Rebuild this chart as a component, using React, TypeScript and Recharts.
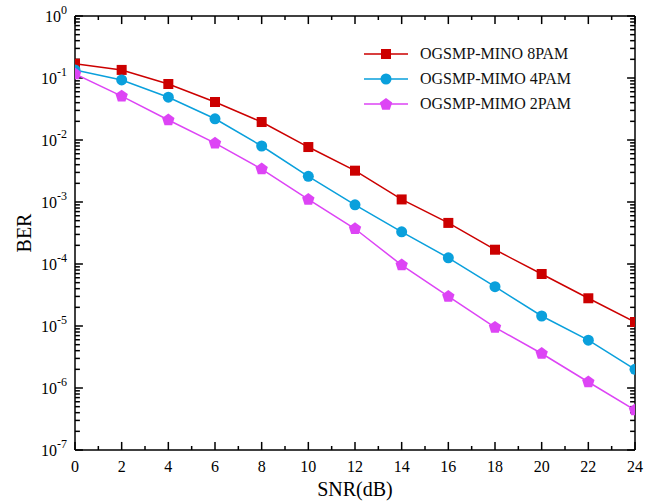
import { LineChart, Line, XAxis, YAxis, Legend, ReferenceLine } from "recharts";

const snr = [0, 2, 4, 6, 8, 10, 12, 14, 16, 18, 20, 22, 24];
const ber8pam = [0.17, 0.135, 0.08, 0.041, 0.0195, 0.0077, 0.0032, 0.0011, 4.6e-4, 1.7e-4, 6.9e-5, 2.8e-5, 1.16e-5];
const ber4pam = [0.135, 0.093, 0.049, 0.022, 0.008, 0.0026, 9e-4, 3.3e-4, 1.26e-4, 4.3e-5, 1.45e-5, 5.9e-6, 2e-6];
const ber2pam = [0.116, 0.051, 0.021, 0.0089, 0.0034, 0.0011, 3.7e-4, 9.6e-5, 3e-5, 9.5e-6, 3.6e-6, 1.25e-6, 4.4e-7];

const xTicks = [0, 1, 2, 3, 4, 5, 6, 7, 8, 9, 10, 11, 12, 13, 14, 15, 16, 17, 18, 19, 20, 21, 22, 23, 24];
const decades = [-7, -6, -5, -4, -3, -2, -1];
const yTicks: number[] = [];
decades.forEach((e) => {
  for (let m = 1; m <= 9; m++) yTicks.push(m * Math.pow(10, e));
});
yTicks.push(1);

const data = snr.map((s, i) => ({ snr: s, ber8: ber8pam[i], ber4: ber4pam[i], ber2: ber2pam[i] }));

const RED = "#CC0000";
const BLUE = "#0AA0DC";
const MAGENTA = "#DD44F5";
const FONT = "Liberation Serif";

const X_MIN = 0;
const X_MAX = 24;
const Y_MIN = 1e-7;
const Y_MAX = 1;
// inward tick lengths, in axis units (about 8px / 4-5px)
const X_MAJOR_LEN = 0.34;
const X_MINOR_LEN = 0.21;
const Y_MAJOR_DEC = 0.13;
const Y_MINOR_DEC = 0.065;

const isDecade = (v: number) => {
  const l = Math.log10(v);
  return Math.abs(l - Math.round(l)) < 1e-6;
};

const BottomTick = (props: any) => {
  const { x, y, payload } = props;
  if (payload.value % 2 !== 0) return <g />;
  return (
    <text x={x} y={y + 22} textAnchor="middle" fontFamily={FONT} fontSize={16} fill="#000">
      {payload.value}
    </text>
  );
};

const LeftTick = (props: any) => {
  const { x, y, payload } = props;
  if (!isDecade(payload.value)) return <g />;
  const exp = Math.round(Math.log10(payload.value));
  return (
    <text x={x - 8} y={y + 6} textAnchor="end" fontFamily={FONT} fontSize={16} fill="#000">
      <tspan>10</tspan>
      <tspan dy={-8} fontSize={12}>{exp === 0 ? "0" : `-${-exp}`}</tspan>
    </text>
  );
};

const squareDot = (color: string) => (p: any) => (
  <rect key={`s-${p.index}`} x={p.cx - 5} y={p.cy - 5} width={10} height={10} fill={color} />
);

const circleDot = (color: string) => (p: any) => (
  <circle key={`c-${p.index}`} cx={p.cx} cy={p.cy} r={5.5} fill={color} />
);

const pentagonPoints = (cx: number, cy: number, r: number) =>
  [0, 1, 2, 3, 4]
    .map((k) => {
      const a = -Math.PI / 2 + (k * 2 * Math.PI) / 5;
      return `${cx + r * Math.cos(a)},${cy + r * Math.sin(a)}`;
    })
    .join(" ");

const pentagonDot = (color: string) => (p: any) => (
  <polygon key={`p-${p.index}`} points={pentagonPoints(p.cx, p.cy, 6.5)} fill={color} />
);

const legendItems = [
  { name: "OGSMP-MINO 8PAM", color: RED, shape: "square" },
  { name: "OGSMP-MIMO 4PAM", color: BLUE, shape: "circle" },
  { name: "OGSMP-MIMO 2PAM", color: MAGENTA, shape: "pentagon" },
];

const renderLegend = () => (
  <div style={{ fontFamily: FONT, fontSize: 16, color: "#111" }}>
    {legendItems.map((it) => (
      <div key={it.name} style={{ display: "flex", alignItems: "center", height: 25 }}>
        <svg width={44} height={16} style={{ marginRight: 12 }}>
          <rect x={0} y={7.25} width={44} height={1.5} fill={it.color} />
          {it.shape === "square" && <rect x={17} y={3} width={10} height={10} fill={it.color} />}
          {it.shape === "circle" && <circle cx={22} cy={8} r={5.5} fill={it.color} />}
          {it.shape === "pentagon" && <polygon points={pentagonPoints(22, 8.5, 6.5)} fill={it.color} />}
        </svg>
        <span>{it.name}</span>
      </div>
    ))}
  </div>
);

const axisLine = { stroke: "#000", strokeWidth: 1.5 };
const tickStroke = { stroke: "#000", strokeWidth: 1.5 };

export default function App() {
  return (
    <div style={{ position: "absolute", left: 0, top: 0 }}>
      <LineChart width={645} height={503} data={data} margin={{ top: 15, right: 9, bottom: 3, left: 0 }}>
        <XAxis
          dataKey="snr"
          type="number"
          domain={[X_MIN, X_MAX]}
          ticks={xTicks}
          interval={0}
          allowDataOverflow
          tickSize={0}
          tickMargin={0}
          tickLine={false}
          tick={<BottomTick />}
          axisLine={axisLine}
          height={50}
          label={{ value: "SNR(dB)", position: "insideBottom", offset: 4, fontFamily: FONT, fontSize: 20, fill: "#000" }}
        />
        <XAxis
          xAxisId="top"
          orientation="top"
          dataKey="snr"
          type="number"
          domain={[X_MIN, X_MAX]}
          allowDataOverflow
          tick={false}
          tickLine={false}
          axisLine={axisLine}
          height={1}
        />
        <YAxis
          type="number"
          scale="log"
          domain={[Y_MIN, Y_MAX]}
          ticks={yTicks}
          interval={0}
          allowDataOverflow
          tickSize={0}
          tickMargin={0}
          tickLine={false}
          tick={<LeftTick />}
          axisLine={axisLine}
          width={75}
          label={{ value: "BER", angle: -90, position: "insideLeft", offset: 24, fontFamily: FONT, fontSize: 20, fill: "#000", style: { textAnchor: "middle" } }}
        />
        <YAxis
          yAxisId="right"
          orientation="right"
          type="number"
          scale="log"
          domain={[Y_MIN, Y_MAX]}
          allowDataOverflow
          tick={false}
          tickLine={false}
          axisLine={axisLine}
          width={1}
        />

        {/* inward tick marks on all four sides */}
        {xTicks.map((v) => {
          const major = v % 2 === 0;
          const d = major ? Y_MAJOR_DEC : Y_MINOR_DEC;
          return [
            <ReferenceLine key={`xb-${v}`} segment={[{ x: v, y: Y_MIN }, { x: v, y: Y_MIN * Math.pow(10, d) }]} {...tickStroke} ifOverflow="visible" />,
            <ReferenceLine key={`xt-${v}`} segment={[{ x: v, y: Y_MAX }, { x: v, y: Y_MAX * Math.pow(10, -d) }]} {...tickStroke} ifOverflow="visible" />,
          ];
        })}
        {yTicks.map((v) => {
          const len = isDecade(v) ? X_MAJOR_LEN : X_MINOR_LEN;
          return [
            <ReferenceLine key={`yl-${v}`} segment={[{ x: X_MIN, y: v }, { x: X_MIN + len, y: v }]} {...tickStroke} ifOverflow="visible" />,
            <ReferenceLine key={`yr-${v}`} segment={[{ x: X_MAX, y: v }, { x: X_MAX - len, y: v }]} {...tickStroke} ifOverflow="visible" />,
          ];
        })}

        <Legend
          layout="horizontal"
          verticalAlign="middle"
          align="center"
          content={renderLegend}
          wrapperStyle={{ left: 364, top: 41, width: 260, height: 80 }}
        />
        <Line dataKey="ber8" name="OGSMP-MINO 8PAM" stroke={RED} strokeWidth={1.5} dot={squareDot(RED)} isAnimationActive={false} />
        <Line dataKey="ber4" name="OGSMP-MIMO 4PAM" stroke={BLUE} strokeWidth={1.5} dot={circleDot(BLUE)} isAnimationActive={false} />
        <Line dataKey="ber2" name="OGSMP-MIMO 2PAM" stroke={MAGENTA} strokeWidth={1.5} dot={pentagonDot(MAGENTA)} isAnimationActive={false} />
      </LineChart>
    </div>
  );
}
